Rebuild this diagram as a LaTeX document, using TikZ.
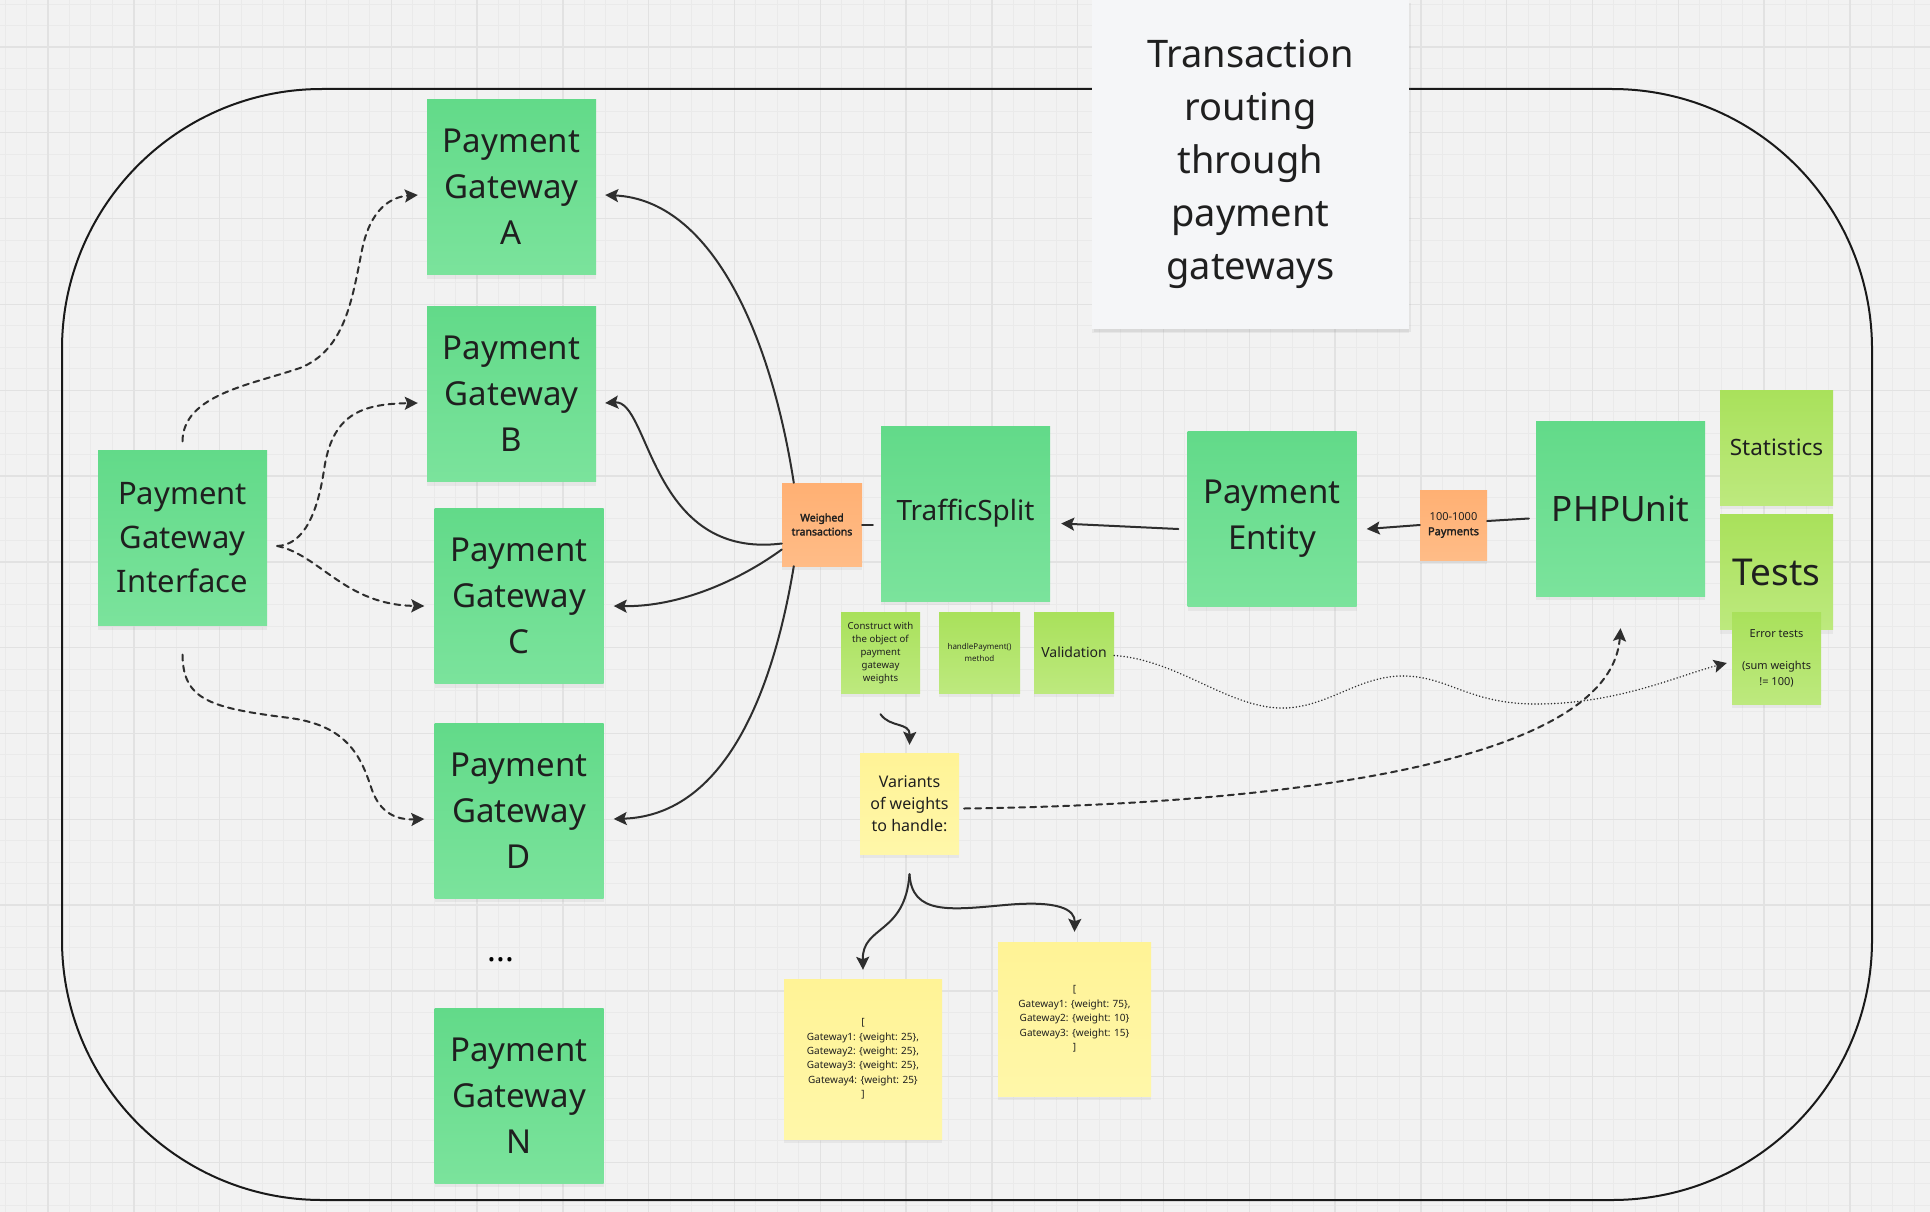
\documentclass[tikz,border=0pt]{standalone}
\usepackage{fontspec}
\setmainfont{Noto Sans}[AutoFakeBold=2.2]
\usetikzlibrary{arrows.meta,shadows}
\definecolor{cgreen}{HTML}{62DA89}
\definecolor{cgreenb}{HTML}{7BE39C}
\definecolor{clime}{HTML}{A9E15B}
\definecolor{climeb}{HTML}{BDE97E}
\definecolor{corange}{HTML}{FFB073}
\definecolor{corangeb}{HTML}{FFBC87}
\definecolor{cyellow}{HTML}{FFF396}
\definecolor{cyellowb}{HTML}{FFF7A9}
\definecolor{cink}{HTML}{2E2E2E}
\definecolor{tbg}{HTML}{F2F2F2}
\definecolor{tgrid}{HTML}{EAEAEA}
\definecolor{tgridmaj}{HTML}{E2E2E2}
\definecolor{ttitle}{HTML}{F5F6F8}

\tikzset{
  sticky/.style={inner sep=0pt, align=center, text=black!88,
    drop shadow={shadow xshift=0pt, shadow yshift=-4pt, opacity=0.10}},
  gwnote/.style={sticky, top color=cgreen, bottom color=cgreenb,
    minimum width=169pt, minimum height=175pt, font=\fontsize{33}{46}\selectfont},
  limenote/.style={sticky, top color=clime, bottom color=climeb},
  orangenote/.style={sticky, top color=corange, bottom color=corangeb},
  yellownote/.style={sticky, top color=cyellow, bottom color=cyellowb},
  link/.style={cink, line width=2pt, line cap=round},
  conn/.style={link, -{Stealth[length=13pt, width=13pt, inset=2.5pt]}},
  dashconn/.style={conn, dash pattern=on 6pt off 5pt},
  dotconn/.style={conn, line width=1.6pt, dash pattern=on 0.1pt off 3.2pt}
}

\begin{document}
\begin{tikzpicture}[x=1pt, y=-1pt, line join=round]
  \useasboundingbox (0,0) rectangle (1930,1212);
  % board
  \fill[tbg] (0,0) rectangle (1930,1212);
  \foreach \i in {0,...,90} \draw[tgrid, line width=1pt] ({5.1+21.45*\i},0) -- ({5.1+21.45*\i},1212);
  \foreach \j in {0,...,57} \draw[tgrid, line width=1pt] (0,{4.1+21.45*\j}) -- (1930,{4.1+21.45*\j});
  \foreach \i in {0,...,22} \draw[tgridmaj, line width=1.4pt] ({48+85.8*\i},0) -- ({48+85.8*\i},1212);
  \foreach \j in {0,...,14} \draw[tgridmaj, line width=1.4pt] (0,{47+85.8*\j}) -- (1930,{47+85.8*\j});
  % frame
  \draw[black!90, line width=2pt, rounded corners=260pt] (62,89) rectangle (1872,1200);
  % title
  \node[sticky, fill=ttitle, minimum width=317pt, minimum height=329pt,
    drop shadow={shadow xshift=2pt, shadow yshift=-3pt, opacity=0.12},
    font=\fontsize{38}{53}\selectfont] (title) at (1250.5,164.5)
    {Transaction\\routing\\through\\payment\\gateways};
  % gateways
  \node[gwnote] (pga) at (511.5,187) {Payment\\Gateway\\A};
  \node[gwnote] (pgb) at (511.5,394) {Payment\\Gateway\\B};
  \node[gwnote] (pgc) at (519,596) {Payment\\Gateway\\C};
  \node[gwnote] (pgd) at (519,810.5) {Payment\\Gateway\\D};
  \node[font=\fontsize{33}{46}\selectfont] (dots) at (501,960) {...};
  \node[gwnote] (pgn) at (519,1095.5) {Payment\\Gateway\\N};
  \node[gwnote, font=\fontsize{31}{44}\selectfont] (pgi) at (182.5,538) {Payment\\Gateway\\Interface};
  % routing chain
  \node[orangenote, minimum width=80pt, minimum height=83pt,
    font=\fontsize{10.5}{14}\selectfont\bfseries] (wt) at (822,524.5) {Weighed\\transactions};
  \node[gwnote, font=\fontsize{28}{38}\selectfont] (ts) at (965.5,513.5) {TrafficSplit};
  \node[gwnote] (pe) at (1272,519) {Payment\\Entity};
  \node[orangenote, minimum width=67pt, minimum height=70pt,
    font=\fontsize{11}{15}\selectfont] (pay) at (1453.5,525) {100-1000\\\textbf{Payments}};
  \node[gwnote, font=\fontsize{35}{46}\selectfont] (php) at (1620.5,508.5) {PHPUnit};
  \node[limenote, minimum width=113pt, minimum height=115pt,
    font=\fontsize{22.5}{30}\selectfont] (stat) at (1776.5,447.5) {Statistics};
  \node[limenote, minimum width=113pt, minimum height=115pt,
    font=\fontsize{37}{48}\selectfont] (tests) at (1776.5,572) {Tests};
  \node[limenote, minimum width=89pt, minimum height=92pt,
    font=\fontsize{11}{16}\selectfont] (err) at (1776.5,658) {Error tests\\[16pt](sum weights\\!= 100)};
  % TrafficSplit notes
  \node[limenote, minimum width=79pt, minimum height=81pt,
    font=\fontsize{9.6}{13}\selectfont] (cons) at (880.5,652.5)
    {Construct with\\the object of\\payment\\gateway\\weights};
  \node[limenote, minimum width=81pt, minimum height=81pt,
    font=\fontsize{8}{12}\selectfont] (hp) at (979.5,652.5) {handlePayment()\\method};
  \node[limenote, minimum width=80pt, minimum height=81pt,
    font=\fontsize{14}{18}\selectfont] (val) at (1074,652.5) {Validation};
  \node[yellownote, minimum width=99pt, minimum height=101pt,
    font=\fontsize{16}{22}\selectfont] (var) at (909.5,803.5) {Variants\\of weights\\to handle:};
  \node[yellownote, minimum width=158pt, minimum height=160pt,
    font=\fontsize{10}{14.4}\selectfont] (wfour) at (863,1059)
    {[\\Gateway1: \{weight: 25\},\\Gateway2: \{weight: 25\},\\Gateway3: \{weight: 25\},\\Gateway4: \{weight: 25\}\\]};
  \node[yellownote, minimum width=153pt, minimum height=154pt,
    font=\fontsize{10}{14.4}\selectfont] (wthree) at (1074.5,1019)
    {[\\Gateway1: \{weight: 75\},\\Gateway2: \{weight: 10\}\\Gateway3: \{weight: 15\}\\]};
  % interface to gateways
  \draw[dashconn] ([yshift=9pt]pgi.north) .. controls (183,395) and (250,385) .. (300,368)
    .. controls (345,350) and (352,300) .. (362,250)
    .. controls (370,210) and (390,197) .. ([xshift=-9pt, yshift=-8pt]pga.west);
  \draw[dashconn] ([xshift=10pt, yshift=-8pt]pgi.east) .. controls (305,545) and (318,510) .. (324,470)
    .. controls (332,415) and (360,404) .. ([xshift=-9pt, yshift=-9pt]pgb.west);
  \draw[dashconn] ([xshift=10pt, yshift=-8pt]pgi.east) .. controls (320,555) and (345,605) ..
    ([xshift=-10pt, yshift=-10pt]pgc.west);
  \draw[dashconn] ([yshift=-29pt]pgi.south) .. controls (183,700) and (210,708) .. (290,718)
    .. controls (350,726) and (362,760) .. (372,790)
    .. controls (380,812) and (395,820) .. ([xshift=-10pt, yshift=-8.5pt]pgd.west);
  % weighed transactions to gateways
  \draw[conn] ([xshift=12pt]wt.north west) .. controls (770,330) and (710,200) ..
    ([xshift=9pt, yshift=-8pt]pga.east);
  \draw[conn] ([yshift=-19pt]wt.west) .. controls (650,560) and (650,400) ..
    ([xshift=9pt, yshift=-9pt]pgb.east);
  \draw[conn] ([yshift=-25pt]wt.west) .. controls (740,580) and (680,607) ..
    ([xshift=10pt, yshift=-10pt]pgc.east);
  \draw[conn] ([xshift=12pt]wt.south west) .. controls (775,680) and (730,815) ..
    ([xshift=10pt, yshift=-8.5pt]pgd.east);
  % chain
  \draw[link, shorten >=8pt] (wt.east) -- (wt.east -| ts.west);
  \draw[conn] ([xshift=-9pt, yshift=-10pt]pe.west) -- ([xshift=11pt, yshift=-10pt]ts.east);
  \draw[conn] (pay.west) -- ([xshift=10pt, yshift=-10pt]pe.east);
  \draw[link] ([xshift=-7pt, yshift=-10pt]php.west) -- ([yshift=4pt]pay.east);
  % weights
  \draw[conn] ([yshift=-21pt]cons.south) .. controls (890,728) and (910,722) .. ([yshift=8pt]var.north);
  \draw[conn] ([yshift=-20pt]var.south) .. controls (905,935) and (862,925) .. ([yshift=9pt]wfour.north);
  \draw[conn] ([yshift=-20pt]var.south) .. controls (912,915) and (950,910) .. (1005,905)
    .. controls (1060,900) and (1075,910) .. ([yshift=10pt]wthree.north);
  % tests
  \draw[dotconn] ([yshift=-3pt]val.east) .. controls (1180,660) and (1230,710) .. (1286,708)
    .. controls (1330,706) and (1360,675) .. (1405,676)
    .. controls (1450,677) and (1470,705) .. (1540,704)
    .. controls (1620,703) and (1680,675) .. ([xshift=-5pt, yshift=-5pt]err.west);
  \draw[dashconn] ([xshift=5pt, yshift=-5pt]var.east) .. controls (1250,805) and (1610,770) ..
    ([yshift=-32pt]php.south);
\end{tikzpicture}
\end{document}
